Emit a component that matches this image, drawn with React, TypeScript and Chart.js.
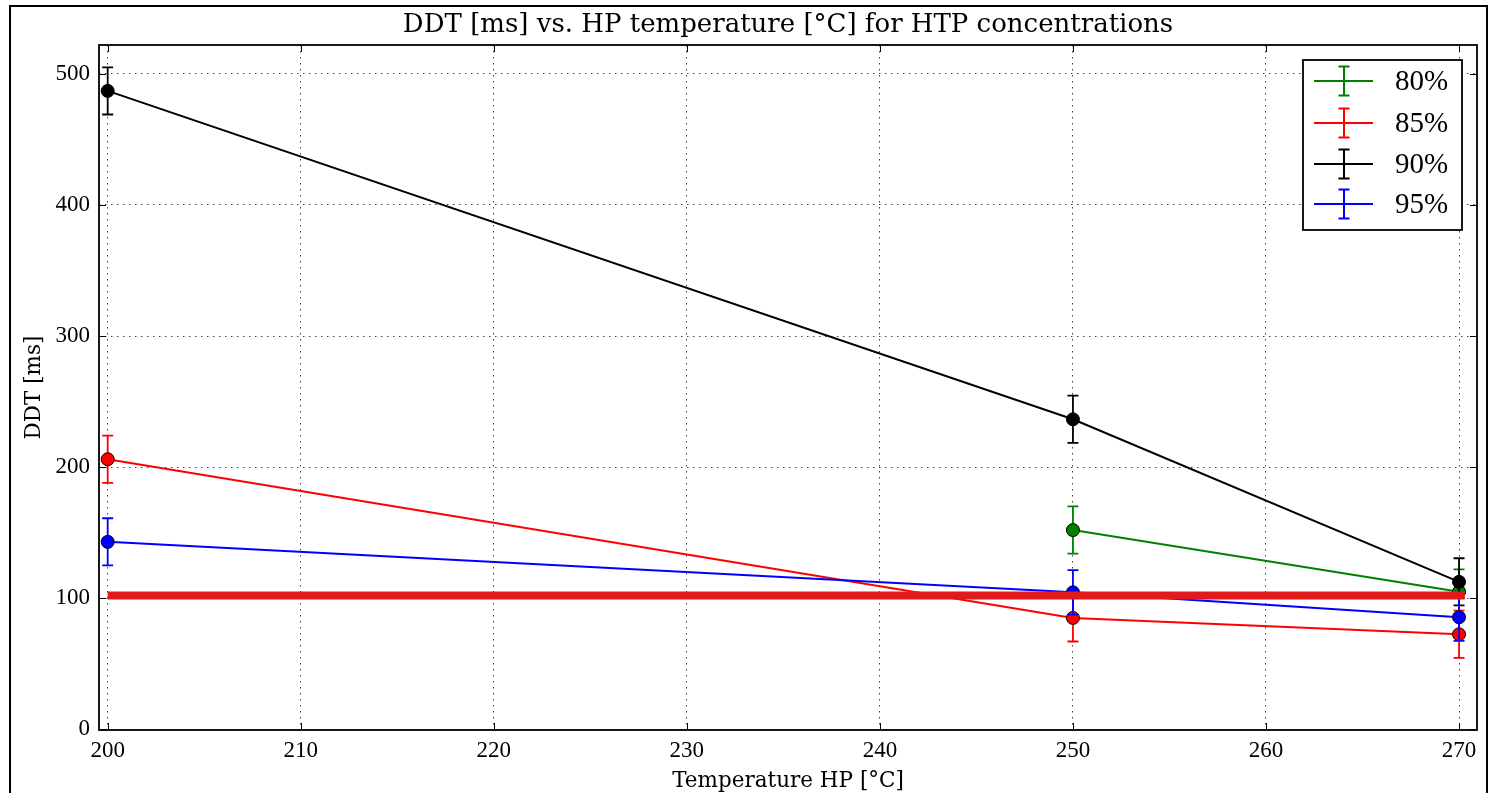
import React, { useEffect, useRef } from 'react';
import { Chart, registerables } from 'chart.js';

Chart.register(...registerables);

// ---- data ----
const temperatures = [200, 250, 270];
const seriesLabels = ['80%', '85%', '90%', '95%'];
const seriesColors = ['#008000', '#ff0000', '#000000', '#0000ff'];
const ddt80 = [null, 152, 105];
const ddt85 = [206, 85, 72.5];
const ddt90 = [487, 236.5, 112.5];
const ddt95 = [143, 104.5, 85.5];
const err80 = [null, 18, 17];
const err85 = [18, 18, 18];
const err90 = [18, 18, 18];
const err95 = [18, 17, 18];
const limitX = [200, 270.3];
const limitY = [102, 102];
const xTicks = [200, 210, 220, 230, 240, 250, 260, 270];
const yTicks = [0, 100, 200, 300, 400, 500];
const titleText = 'DDT [ms] vs. HP temperature [°C] for HTP concentrations';
const xLabelText = 'Temperature HP [°C]';
const yLabelText = 'DDT [ms]';

const toPoints = (xs: number[], ys: (number | null)[]) =>
  xs.map((x, i) => ({ x, y: ys[i] })).filter((p) => p.y !== null);
const toErrors = (ys: (number | null)[], es: (number | null)[]) =>
  es.filter((_, i) => ys[i] !== null);

const errorBarPlugin = {
  id: 'errorBars',
  beforeDatasetDraw(chart: any, args: any) {
    const ds = chart.data.datasets[args.index];
    if (!ds.errorBars) return;
    const xs = chart.scales.x;
    const ys = chart.scales.y;
    const ctx = chart.ctx;
    ctx.save();
    ctx.strokeStyle = ds.borderColor;
    ctx.lineWidth = 1.8;
    ds.data.forEach((p: any, i: number) => {
      const e = ds.errorBars[i];
      if (e == null) return;
      const px = xs.getPixelForValue(p.x);
      const top = ys.getPixelForValue(p.y + e);
      const bot = ys.getPixelForValue(p.y - e);
      ctx.beginPath();
      ctx.moveTo(px, top);
      ctx.lineTo(px, bot);
      ctx.moveTo(px - 5.5, top);
      ctx.lineTo(px + 5.5, top);
      ctx.moveTo(px - 5.5, bot);
      ctx.lineTo(px + 5.5, bot);
      ctx.stroke();
    });
    ctx.restore();
  },
};

const framePlugin = {
  id: 'frame',
  afterDatasetsDraw(chart: any) {
    const { ctx, chartArea: a } = chart;
    const xs = chart.scales.x;
    const ys = chart.scales.y;
    ctx.save();
    ctx.strokeStyle = '#000';
    ctx.lineWidth = 1;
    ctx.beginPath();
    xTicks.forEach((v) => {
      const px = Math.round(xs.getPixelForValue(v)) + 0.5;
      ctx.moveTo(px, a.bottom);
      ctx.lineTo(px, a.bottom - 7);
      ctx.moveTo(px, a.top);
      ctx.lineTo(px, a.top + 7);
    });
    yTicks.forEach((v) => {
      const py = Math.round(ys.getPixelForValue(v)) + 0.5;
      ctx.moveTo(a.left, py);
      ctx.lineTo(a.left + 7, py);
      ctx.moveTo(a.right, py);
      ctx.lineTo(a.right - 7, py);
    });
    ctx.stroke();
    ctx.lineWidth = 1.8;
    ctx.strokeRect(a.left, a.top, a.right - a.left, a.bottom - a.top);
    ctx.restore();
  },
  afterDraw(chart: any) {
    const { ctx, chartArea: a } = chart;
    ctx.save();
    // figure border
    ctx.strokeStyle = '#000';
    ctx.lineWidth = 2;
    ctx.strokeRect(10, 6, 1477, 820);
    // legend
    const lx = 1303, ly = 60, lw = 159, lh = 170;
    ctx.fillStyle = '#fff';
    ctx.fillRect(lx, ly, lw, lh);
    ctx.lineWidth = 1.8;
    ctx.strokeRect(lx, ly, lw, lh);
    const rows = [81, 123, 164, 204];
    const sets = chart.data.datasets.filter((d: any) => d.showInLegend);
    sets.forEach((d: any, i: number) => {
      const cy = rows[i];
      ctx.strokeStyle = d.borderColor;
      ctx.lineWidth = 2;
      ctx.beginPath();
      ctx.moveTo(1314, cy);
      ctx.lineTo(1373, cy);
      ctx.moveTo(1344, cy - 14.5);
      ctx.lineTo(1344, cy + 14.5);
      ctx.moveTo(1338.5, cy - 14.5);
      ctx.lineTo(1349.5, cy - 14.5);
      ctx.moveTo(1338.5, cy + 14.5);
      ctx.lineTo(1349.5, cy + 14.5);
      ctx.stroke();
      ctx.fillStyle = '#000';
      ctx.font = '29px "Liberation Serif"';
      ctx.textAlign = 'left';
      ctx.textBaseline = 'middle';
      ctx.fillText(d.label, 1395, cy + 1);
    });
    // titles
    const cx = (a.left + a.right) / 2;
    ctx.fillStyle = '#000';
    ctx.textAlign = 'center';
    ctx.textBaseline = 'alphabetic';
    ctx.font = '26px "DejaVu Serif"';
    ctx.fillText(titleText, cx, 32);
    ctx.font = '21.5px "DejaVu Serif"';
    ctx.fillText(xLabelText, cx, 787);
    ctx.translate(40, (a.top + a.bottom) / 2);
    ctx.rotate(-Math.PI / 2);
    ctx.fillText(yLabelText, 0, 0);
    ctx.restore();
  },
};

export default function App() {
  const ref = useRef<HTMLCanvasElement>(null);
  useEffect(() => {
    if (!ref.current) return;
    const mk = (label: string, color: string, ys: (number | null)[], es: (number | null)[], order: number) => ({
      label,
      data: toPoints(temperatures, ys),
      errorBars: toErrors(ys, es),
      borderColor: color,
      backgroundColor: color,
      pointBackgroundColor: color,
      pointBorderColor: '#000',
      pointBorderWidth: 1,
      pointRadius: 6.5,
      borderWidth: 2,
      showInLegend: true,
      order,
    });
    const chart = new Chart(ref.current, {
      type: 'line',
      data: {
        datasets: [
          mk(seriesLabels[0], seriesColors[0], ddt80, err80, 4),
          mk(seriesLabels[1], seriesColors[1], ddt85, err85, 3),
          mk(seriesLabels[2], seriesColors[2], ddt90, err90, 2),
          mk(seriesLabels[3], seriesColors[3], ddt95, err95, 1),
          {
            label: 'limit',
            data: limitX.map((x, i) => ({ x, y: limitY[i] })),
            borderColor: '#e31a1c',
            borderWidth: 8,
            pointRadius: 0,
            order: 0,
            showInLegend: false,
          } as any,
        ] as any,
      },
      options: {
        responsive: false,
        animation: false,
        events: [],
        layout: { padding: { left: 0, top: 45, right: 16, bottom: 0 } },
        plugins: {
          legend: { display: false },
          tooltip: { enabled: false },
          title: { display: false },
        },
        scales: {
          x: {
            type: 'linear',
            min: 199.55,
            max: 270.93,
            afterBuildTicks: (s: any) => {
              s.ticks = xTicks.map((v) => ({ value: v }));
            },
            afterFit: (s: any) => {
              s.height = 63;
            },
            grid: { color: '#444', lineWidth: 1, drawTicks: false },
            border: { display: false, dash: [1.5, 4.5] },
            ticks: {
              padding: 7,
              color: '#000',
              maxRotation: 0,
              autoSkip: false,
              font: { family: '"Liberation Serif"', size: 23 },
            },
          },
          y: {
            type: 'linear',
            min: -0.5,
            max: 522,
            afterBuildTicks: (s: any) => {
              s.ticks = yTicks.map((v) => ({ value: v }));
            },
            afterFit: (s: any) => {
              s.width = 99;
            },
            grid: { color: '#444', lineWidth: 1, drawTicks: false },
            border: { display: false, dash: [1.5, 4.5] },
            ticks: {
              padding: 9,
              color: '#000',
              autoSkip: false,
              font: { family: '"Liberation Serif"', size: 23 },
            },
          },
        },
      } as any,
      plugins: [errorBarPlugin, framePlugin],
    });
    return () => chart.destroy();
  }, []);
  return (
    <div style={{ position: 'fixed', left: 0, top: 0, width: 1493, height: 793, background: '#fff' }}>
      <canvas ref={ref} width={1493} height={793} style={{ display: 'block' }} />
    </div>
  );
}
